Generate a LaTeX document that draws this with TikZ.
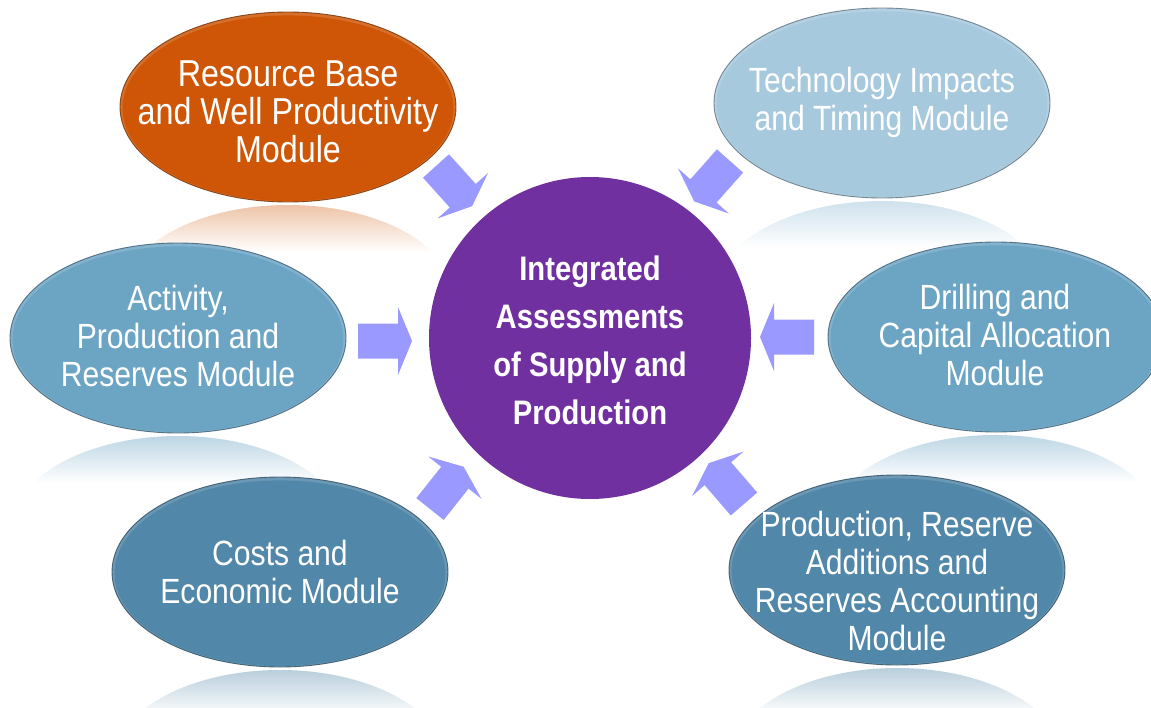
\documentclass[tikz,border=0pt]{standalone}
\usepackage{fontspec}
\setmainfont{Liberation Sans}[FakeStretch=0.86]
\usetikzlibrary{shapes.geometric}

\definecolor{hubpurple}{HTML}{7030A0}
\definecolor{flowblue}{HTML}{9999FF}
\definecolor{resorange}{RGB}{206,86,6}
\definecolor{techblue}{RGB}{167,201,222}
\definecolor{midblue}{RGB}{108,164,196}
\definecolor{deepblue}{RGB}{81,135,168}

\tikzset{
  module/.style={ellipse, inner sep=0pt, minimum width=336pt, minimum height=190pt,
    fill=#1!85!white, draw=#1!55!black, draw opacity=0.8, line width=0.9pt},
  modtext/.style={text=white, align=center, inner sep=0pt,
    font=\fontsize{35}{38}\selectfont},
  hubtext/.style={text=white, align=center, inner sep=0pt,
    font=\fontsize{34}{48}\selectfont\bfseries},
  hub/.style={circle, inner sep=0pt, minimum size=322pt, fill=hubpurple},
  inflow/.pic={\fill[flowblue] (0,17.5) -- (40,17.5) -- (40,34) -- (54,0)
      -- (40,-34) -- (40,-17.5) -- (0,-17.5) -- cycle;}
}

% an oval module with a light bevel along its upper rim
\newcommand\moduleoval[4]{%
  \node[module=#4] (#1) at (#2,#3) {};
  \fill[#4] ([yshift=-1.2pt]#1.center) ellipse [x radius=165.5pt, y radius=92.8pt];
}
% a faint mirror image under an oval (centre x, lower edge y, tint)
\newcommand\mirrorglow[3]{%
  \begin{scope}
    \clip (#1,#2+3+95) ellipse [x radius=168pt, y radius=95pt];
    \shade[top color=#3, bottom color=white] (#1-170,#2+3) rectangle (#1+170,#2+50);
  \end{scope}
}

\begin{document}
\begin{tikzpicture}[x=1pt, y=-1pt]
  \useasboundingbox (0,0) rectangle (1151,707);
  \clip (0,0) rectangle (1151,707);

  % reflections
  \mirrorglow{288}{202}{resorange!35!white}
  \mirrorglow{882}{198}{techblue!55!white}
  \mirrorglow{178}{433}{midblue!45!white}
  \mirrorglow{995}{432}{midblue!45!white}
  \mirrorglow{280}{667}{deepblue!40!white}
  \mirrorglow{897}{665}{deepblue!40!white}

  % modules
  \moduleoval{res}{288}{107}{resorange}
  \moduleoval{tech}{882}{103}{techblue}
  \moduleoval{act}{178}{338}{midblue}
  \moduleoval{drill}{996}{337}{midblue}
  \moduleoval{cost}{280}{572}{deepblue}
  \moduleoval{prod}{897}{570}{deepblue}

  % hub
  \node[hub] (core) at (590,338) {};

  % inflow arrows
  \coordinate (a1) at (436,166);
  \coordinate (a2) at (730,161);
  \coordinate (a3) at (358,341);
  \coordinate (a4) at (814,337);
  \coordinate (a5) at (430,509);
  \coordinate (a6) at (744,504);
  \pic[rotate=-48] at (a1) {inflow};
  \pic[rotate=-131.6] at (a2) {inflow};
  \pic at (a3) {inflow};
  \pic[rotate=180] at (a4) {inflow};
  \pic[rotate=51.5] at (a5) {inflow};
  \pic[rotate=130.8] at (a6) {inflow};

  % labels
  \node[modtext, font=\fontsize{37.5}{38}\selectfont] (res-t) at (288,112)
    {Resource Base\\and Well Productivity\\Module};
  \node[modtext] (tech-t) at (882,102) {Technology Impacts\\and Timing Module};
  \node[modtext] (act-t) at (178,336) {Activity,\\Production and\\Reserves Module};
  \node[modtext] (drill-t) at (995,335) {Drilling and\\Capital Allocation\\Module};
  \node[modtext] (cost-t) at (280,572) {Costs and\\Economic Module};
  \node[modtext] (prod-t) at (897,581) {Production, Reserve\\Additions and\\Reserves Accounting\\Module};
  \node[hubtext] (core-t) at (590,340) {Integrated\\Assessments\\of Supply and\\Production};
\end{tikzpicture}
\end{document}
